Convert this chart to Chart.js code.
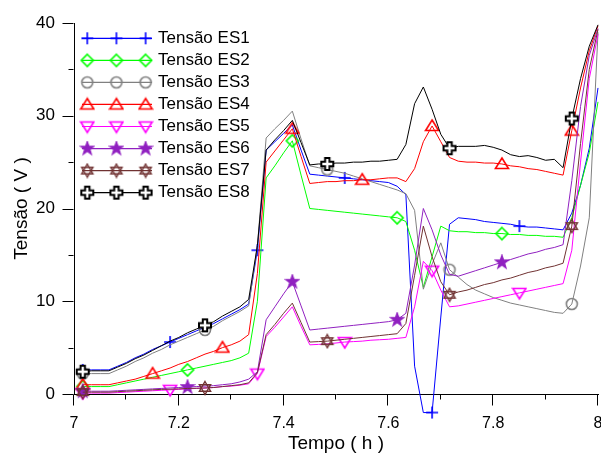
<!DOCTYPE html>
<html>
<head>
<meta charset="utf-8">
<script src="https://cdn.jsdelivr.net/npm/chart.js@4"></script>
<style>
  html, body { margin: 0; padding: 0; background: #fff; }
  #wrap { width: 601px; height: 453px; }
</style>
</head>
<body>
<div id="wrap"><canvas id="chart" width="601" height="453"></canvas></div>
<script>
// minutes after 7 h (one sample per minute)
const minutos = [1,2,3,4,5,6,7,8,9,10,11,12,13,14,15,16,17,18,19,20,
  21,22,23,24,25,26,27,28,29,30,31,32,33,34,35,36,37,38,39,40,
  41,42,43,44,45,46,47,48,49,50,51,52,53,54,55,56,57,58,59,60];

const es1 = [2.6,2.6,2.6,2.6,3.0,3.4,3.9,4.3,4.8,5.2, 5.6,6.0,6.4,6.8,7.2,7.6,8.1,8.6,9.1,9.7,
  15.5,26.3,27.2,28.1,29.0,26.3,23.7,23.6,23.5,23.4, 23.3,23.2,23.1,23.0,22.9,22.8,22.4,21.5,3.0,-2.0,
  -2.0,8.3,18.3,19.0,18.9,18.8,18.6,18.5,18.4,18.3, 18.1,18.0,18.0,17.9,17.8,17.7,19.5,22.5,26.5,33.0];
const es2 = [0.8,0.8,0.8,0.8,1.0,1.2,1.4,1.6,1.8,2.0, 2.2,2.4,2.6,2.8,3.0,3.2,3.4,3.6,3.9,4.4,
  10.0,23.3,24.6,26.0,27.3,23.6,20.0,19.9,19.8,19.7, 19.6,19.5,19.4,19.3,19.2,19.1,19.0,18.6,15.5,11.5,
  14.8,18.1,17.6,17.5,17.5,17.4,17.4,17.3,17.3,17.2, 17.2,17.1,17.1,17.0,17.0,16.9,19.0,22.5,26.0,31.5];
const es3 = [2.2,2.2,2.2,2.2,2.6,3.0,3.5,3.9,4.4,4.8, 5.3,5.7,6.1,6.5,6.9,7.3,7.9,8.4,8.9,9.5,
  16.0,27.6,28.6,29.5,30.5,27.5,24.6,24.4,24.2,24.0, 23.8,23.5,23.2,22.9,22.6,22.3,22.0,21.6,19.8,11.3,
  14.0,16.3,13.4,12.6,11.8,11.2,10.8,10.4,10.1,9.8, 9.6,9.4,9.2,9.0,8.8,8.7,9.7,13.8,19.0,39.0];
const es4 = [1.0,1.0,1.0,1.0,1.2,1.4,1.6,1.9,2.2,2.5, 2.8,3.2,3.5,3.9,4.3,4.6,5.0,5.3,5.7,6.4,
  13.0,25.0,26.2,27.4,28.6,25.6,22.7,22.8,22.9,22.9, 23.0,23.0,23.1,23.1,23.2,23.3,23.3,22.9,24.3,27.2,
  28.9,27.2,25.5,25.1,25.0,25.0,24.9,24.9,24.8,24.6, 24.5,24.3,24.2,24.0,23.8,23.6,28.4,33.0,37.0,39.7];
const es5 = [0.1,0.1,0.1,0.1,0.15,0.2,0.25,0.3,0.35,0.4, 0.45,0.5,0.55,0.6,0.65,0.7,0.8,0.85,0.95,1.1,
  2.2,6.2,7.2,8.3,9.4,7.3,5.3,5.35,5.4,5.5, 5.6,5.65,5.7,5.8,5.85,5.9,6.0,6.1,9.4,14.3,
  13.3,11.2,9.4,9.5,9.7,9.9,10.1,10.3,10.5,10.7, 10.9,11.1,11.3,11.5,11.7,11.9,15.5,25.0,34.0,38.8];
const es6 = [0.3,0.3,0.3,0.3,0.35,0.4,0.45,0.5,0.55,0.6, 0.65,0.7,0.75,0.8,0.85,0.9,1.0,1.1,1.3,1.6,
  2.4,8.0,9.4,10.8,12.1,9.5,6.9,7.0,7.1,7.2, 7.3,7.4,7.5,7.6,7.7,7.8,8.0,8.7,13.9,20.0,
  17.7,15.0,12.9,12.7,13.0,13.3,13.6,13.9,14.2,14.5, 14.8,15.1,15.3,15.6,15.8,16.1,23.0,31.0,36.5,39.4];
const es7 = [0.2,0.2,0.2,0.2,0.25,0.3,0.35,0.4,0.45,0.5, 0.52,0.55,0.6,0.62,0.65,0.7,0.8,0.9,1.0,1.2,
  2.3,6.4,7.5,8.7,9.8,7.7,5.6,5.65,5.7,5.8, 5.9,6.0,6.1,6.2,6.3,6.4,6.5,7.6,12.8,18.1,
  14.8,12.1,10.7,11.0,11.2,11.5,11.8,12.0,12.3,12.5, 12.8,13.1,13.3,13.6,13.8,14.1,18.1,27.0,35.0,39.3];
const es8 = [2.4,2.5,2.5,2.5,2.9,3.3,3.8,4.2,4.7,5.2, 5.7,6.1,6.6,7.0,7.4,7.8,8.4,8.9,9.4,10.2,
  16.0,26.3,27.4,28.4,29.5,27.1,24.7,24.8,24.8,24.9, 24.9,25.0,25.0,25.1,25.1,25.2,25.3,26.9,31.3,33.1,
  30.7,28.0,26.5,26.7,26.7,26.7,26.8,26.6,26.3,25.8, 25.6,25.7,25.5,25.2,25.3,24.4,29.7,34.0,37.5,39.8];

const seriesNames = ["Tensão ES1","Tensão ES2","Tensão ES3","Tensão ES4","Tensão ES5","Tensão ES6","Tensão ES7","Tensão ES8"];
const xMajor = [7, 7.2, 7.4, 7.6, 7.8, 8];
const xMinor = [7.1, 7.3, 7.5, 7.7, 7.9];
const yMajor = [0, 10, 20, 30, 40];
const yMinor = [5, 15, 25, 35];

const FONT = "'Liberation Sans', Arial, sans-serif";

// marker glyphs, drawn once into little canvases
function marker(kind, color) {
  const c = document.createElement("canvas");
  c.width = c.height = 16;
  const g = c.getContext("2d");
  g.translate(8, 8);
  g.strokeStyle = color;
  g.fillStyle = color;
  g.lineWidth = 1.6;
  g.lineJoin = "miter";
  g.beginPath();
  if (kind === "plus") {
    g.moveTo(-6, 0); g.lineTo(6, 0); g.moveTo(0, -6); g.lineTo(0, 6);
    g.stroke();
  } else if (kind === "diamond") {
    g.moveTo(0, -6); g.lineTo(6, 0); g.lineTo(0, 6); g.lineTo(-6, 0); g.closePath();
    g.stroke();
  } else if (kind === "circle") {
    g.arc(0, 0, 5.5, 0, Math.PI * 2);
    g.stroke();
  } else if (kind === "triUp") {
    g.moveTo(0, -6); g.lineTo(6.5, 4.5); g.lineTo(-6.5, 4.5); g.closePath();
    g.stroke();
  } else if (kind === "triDown") {
    g.moveTo(0, 6); g.lineTo(6.5, -4.5); g.lineTo(-6.5, -4.5); g.closePath();
    g.stroke();
  } else if (kind === "star5") {
    for (let i = 0; i < 10; i++) {
      const r = i % 2 ? 2.8 : 7;
      const a = -Math.PI / 2 + i * Math.PI / 5;
      g.lineTo(r * Math.cos(a), r * Math.sin(a));
    }
    g.closePath();
    g.lineWidth = 1.2;
    g.fill(); g.stroke();
  } else if (kind === "star6") {
    g.lineWidth = 1.4;
    for (const off of [-Math.PI / 2, Math.PI / 2]) {
      g.beginPath();
      for (let i = 0; i < 3; i++) {
        const a = off + i * 2 * Math.PI / 3;
        g.lineTo(6.5 * Math.cos(a), 6.5 * Math.sin(a));
      }
      g.closePath();
      g.stroke();
    }
  } else if (kind === "cross") {
    const w = 2.2, l = 6;
    const pts = [[-w,-l],[w,-l],[w,-w],[l,-w],[l,w],[w,w],[w,l],[-w,l],[-w,w],[-l,w],[-l,-w],[-w,-w]];
    pts.forEach(p => g.lineTo(p[0], p[1]));
    g.closePath();
    g.fillStyle = "#fff";
    g.fill();
    g.lineWidth = 2;
    g.stroke();
  }
  return c;
}

const colors = ["#0000ff", "#00ff00", "#808080", "#ff0000", "#ff00ff", "#9020c0", "#703232", "#000000"];
const kinds = ["plus", "diamond", "circle", "triUp", "triDown", "star5", "star6", "cross"];
const every = [10, 12, 14, 8, 10, 12, 14, 14];
const values = [es1, es2, es3, es4, es5, es6, es7, es8];
const markers = kinds.map((k, i) => marker(k, colors[i]));

const datasets = values.map((vals, i) => ({
  label: seriesNames[i],
  data: vals.map((v, j) => ({ x: 7 + minutos[j] / 60, y: v })),
  borderColor: colors[i],
  backgroundColor: colors[i],
  borderWidth: 1,
  tension: 0,
  clip: false,
  order: 8 - i,
  pointStyle: markers[i],
  // image markers ignore radius for size; big radius keeps off-area points drawn
  pointRadius: ctx => (ctx.dataIndex % every[i] === 0 ? 25 : 0),
  pointHoverRadius: 0,
}));

const decor = {
  id: "decor",
  afterDraw(chart) {
    const ctx = chart.ctx;
    const xs = chart.scales.x, ys = chart.scales.y;
    const area = chart.chartArea;
    ctx.save();
    ctx.strokeStyle = "#000";
    ctx.lineWidth = 1;
    ctx.beginPath();
    const left = Math.round(area.left) - 0.5;
    const bottom = Math.round(area.bottom) + 0.5;
    yMajor.concat(yMinor).forEach(v => {
      const p = Math.round(ys.getPixelForValue(v)) + 0.5;
      const len = yMajor.includes(v) ? 11 : 5;
      ctx.moveTo(left - len, p); ctx.lineTo(left, p);
    });
    xMajor.concat(xMinor).forEach(v => {
      const p = Math.round(xs.getPixelForValue(v)) - 0.5;
      const len = xMajor.includes(v) ? 11 : 5;
      ctx.moveTo(p, bottom); ctx.lineTo(p, bottom + len);
    });
    ctx.stroke();

    // legend
    ctx.font = "17px " + FONT;
    ctx.textBaseline = "middle";
    ctx.textAlign = "left";
    seriesNames.forEach((name, i) => {
      const y = 38.3 + i * 22.05;
      ctx.strokeStyle = colors[i];
      ctx.lineWidth = 1.2;
      ctx.beginPath();
      ctx.moveTo(82, y); ctx.lineTo(152, y);
      ctx.stroke();
      [87.3, 116.4, 145.6].forEach(mx => {
        ctx.drawImage(markers[i], mx - 8, y - 8);
      });
      ctx.fillStyle = "#000";
      ctx.fillText(name, 158, y);
    });
    ctx.restore();
  }
};

new Chart(document.getElementById("chart"), {
  type: "line",
  data: { datasets },
  options: {
    responsive: false,
    animation: false,
    events: [],
    devicePixelRatio: 1,
    layout: { autoPadding: false, padding: { top: 23, right: 3, left: 0, bottom: 0 } },
    plugins: { legend: { display: false }, tooltip: { enabled: false } },
    scales: {
      x: {
        type: "linear",
        min: 7,
        max: 8,
        afterBuildTicks: s => { s.ticks = xMajor.map(v => ({ value: v })); },
        afterFit: s => { s.height = 59; s.paddingLeft = 0; s.paddingRight = 0; },
        ticks: {
          font: { family: FONT, size: 16 },
          color: "#000",
          padding: 9,
          maxRotation: 0,
          autoSkip: false,
          callback: v => String(Math.round(v * 10) / 10),
        },
        grid: { display: true, drawOnChartArea: false, drawTicks: true, tickLength: 11, color: "rgba(0,0,0,0)" },
        border: { display: true, color: "#000", width: 1 },
        title: {
          display: true,
          text: "Tempo ( h )",
          color: "#000",
          font: { family: FONT, size: 19, lineHeight: 1 },
          padding: 0,
        },
      },
      y: {
        min: 0,
        max: 40,
        afterBuildTicks: s => { s.ticks = yMajor.map(v => ({ value: v })); },
        afterFit: s => { s.width = 74; s.paddingTop = 0; s.paddingBottom = 0; },
        ticks: {
          font: { family: FONT, size: 17 },
          color: "#000",
          padding: 8,
          autoSkip: false,
        },
        grid: { display: true, drawOnChartArea: false, drawTicks: true, tickLength: 11, color: "rgba(0,0,0,0)" },
        border: { display: true, color: "#000", width: 1 },
        title: {
          display: true,
          text: "Tensão ( V )",
          color: "#000",
          font: { family: FONT, size: 19, lineHeight: 1 },
          padding: { top: 12, bottom: 0 },
        },
      },
    },
  },
  plugins: [decor],
});
</script>
</body>
</html>
